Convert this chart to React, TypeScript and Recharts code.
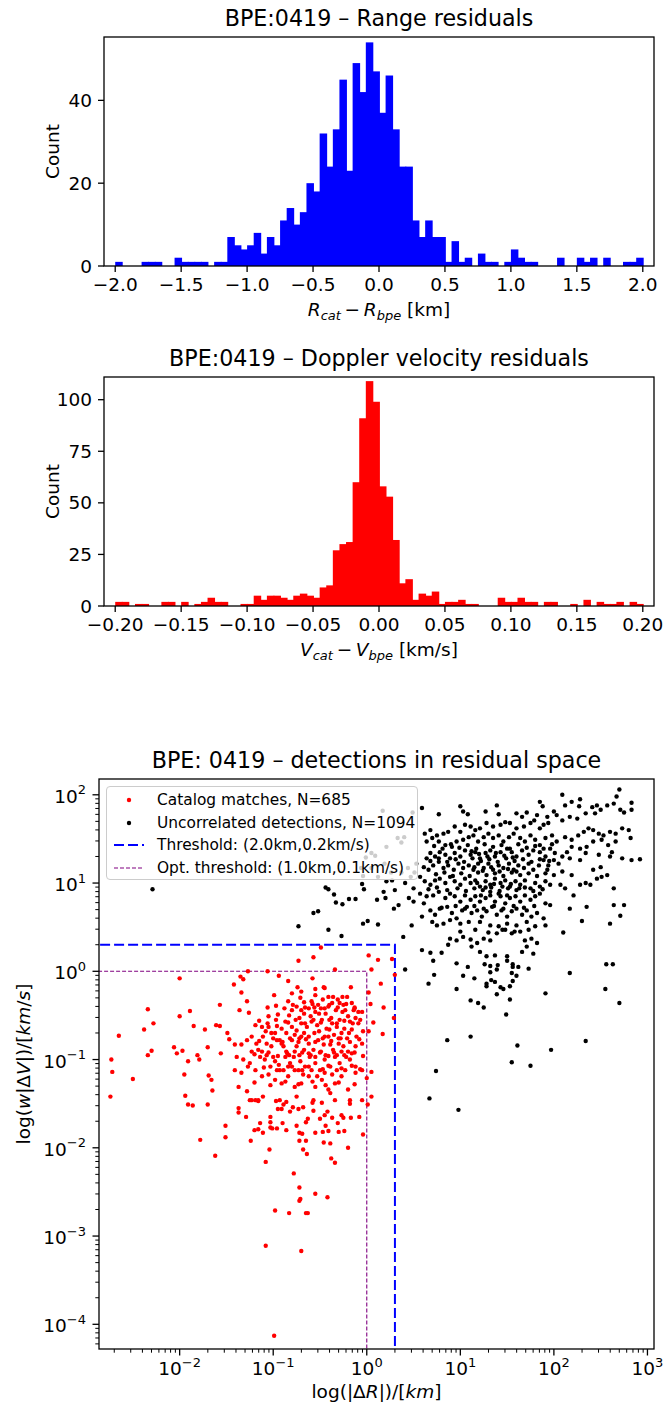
import React from "react";
import { BarChart, Bar, XAxis, YAxis, ComposedChart, Scatter, Line } from "recharts";

const FONT = "'DejaVu Sans', Verdana, sans-serif";
const W = 667;
const MINUS = "\u2212";

// ---------- histogram 1: range residuals (80 bins of 0.05 km from -2.0) ----------
const rangeLo = -2.0;
const rangeBin = 0.05;
const rangeCounts = [
  1, 0, 0, 0, 1, 1, 1, 0, 0, 2, 1, 1, 1, 1, 0, 1, 1, 7, 5, 4,
  5, 8, 3, 7, 5, 11, 14, 10, 13, 20, 18, 32, 24, 33, 45, 23, 49, 42, 54, 47,
  37, 46, 33, 24, 24, 11, 7, 11, 7, 7, 1, 6, 1, 2, 0, 3, 1, 1, 0, 1,
  4, 2, 1, 1, 0, 0, 0, 2, 0, 0, 2, 1, 2, 0, 2, 0, 0, 1, 1, 2,
];
const rangeTicks = [-2, -1.5, -1, -0.5, 0, 0.5, 1, 1.5, 2];
const rangeCountTicks = [0, 20, 40];

// ---------- histogram 2: doppler residuals (80 bins of 0.005 km/s from -0.2) ----------
const dopplerLo = -0.2;
const dopplerBin = 0.005;
const dopplerCounts = [
  2, 2, 0, 1, 1, 0, 0, 2, 2, 0, 2, 0, 1, 2, 4, 2, 2, 0, 0, 1,
  1, 5, 3, 5, 5, 4, 3, 5, 6, 5, 4, 9, 10, 27, 30, 31, 60, 91, 109, 99,
  58, 53, 32, 11, 13, 3, 6, 5, 7, 1, 2, 2, 3, 1, 1, 0, 0, 0, 4, 2,
  2, 4, 2, 2, 0, 2, 2, 0, 0, 1, 0, 3, 0, 2, 1, 1, 2, 0, 2, 1,
];
const dopplerTicks = [-0.2, -0.15, -0.1, -0.05, 0, 0.05, 0.1, 0.15, 0.2];
const dopplerCountTicks = [0, 25, 50, 75, 100];

// ---------- residual space: [log10 |dR| km, log10 w|dV| km/s] ----------
const matchLog: [number, number][] = [
  [-2.74,-1.42],[-2.73,-1.0],[-2.72,-1.14],[-2.65,-0.73],[-2.5,-1.22],[-2.38,-0.66],[-2.34,-0.43],[-2.34,-0.95],
  [-2.3,-0.9],[-2.28,-0.59],[-2.06,-0.86],[-2.03,-0.93],[-2.0,-0.08],[-2.0,-0.51],[-1.97,-0.9],[-1.95,-1.17],
  [-1.94,-1.41],[-1.91,-1.02],[-1.91,-1.51],[-1.89,-0.45],[-1.86,-1.52],[-1.85,-0.62],[-1.81,-0.95],[-1.79,-1.0],
  [-1.78,-1.91],[-1.73,-0.66],[-1.7,-0.86],[-1.7,-1.51],[-1.69,-1.18],[-1.66,-1.23],[-1.65,-1.35],[-1.62,-2.09],
  [-1.61,-0.61],[-1.57,-0.38],[-1.57,-0.62],[-1.56,-0.93],[-1.51,-1.75],[-1.51,-1.88],[-1.49,-0.7],[-1.47,-0.77],
  [-1.35,-0.06],[-1.27,0],[-1.06,0],[-0.94,-0.05],[-0.84,-0.11],[-0.74,-0.18],[-0.58,-0.08],[-0.55,-0.2],
  [-0.46,-0.18],[-0.34,0.02],[-0.17,-0.18],[-0.13,-0.41],[-0.05,-0.46],[0.02,0.18],[0.05,0.02],[0.12,0.13],
  [0.15,-0.14],[0.18,-0.41],[0.27,0.14],[0.29,-0.53],[0.17,-0.71],[-0.49,0.27],[-0.57,0.16],[-0.73,0.12],
  [-1.42,-0.15],[-1.32,-0.09],[-1.34,-0.24],[-1.28,-0.34],[-1.36,-0.44],[-1.26,-0.47],[-1.06,-0.41],[-0.99,-0.27],
  [-1.05,-0.51],[-0.95,-0.49],[-0.84,-0.34],[-0.83,-0.5],[-0.75,-0.4],[-0.71,-0.3],[-0.67,-0.35],[-0.62,-0.42],
  [-0.56,-0.41],[-0.51,-0.48],[-0.47,-0.32],[-0.45,-0.19],[-0.41,-0.4],[-0.36,-0.29],[-0.31,-0.32],[-0.29,-0.36],
  [-0.26,-0.29],[-0.26,-0.46],[-0.2,-0.51],[-0.14,-0.44],[-0.09,-0.46],
  [-1.19,-0.61],[-1.12,-0.63],[-1.08,-0.68],[-1.02,-0.7],[-0.96,-0.62],[-0.91,-0.65],[-0.86,-0.7],[-0.8,-0.63],
  [-0.75,-0.67],[-0.7,-0.59],[-0.64,-0.63],[-0.59,-0.57],[-0.53,-0.61],[-0.48,-0.55],[-0.43,-0.65],[-0.37,-0.59],
  [-0.32,-0.63],[-0.27,-0.7],[-0.21,-0.76],[-0.16,-0.66],[-0.09,-0.59],[-0.04,-0.68],[0.02,-0.68],
  [-1.41,-0.83],[-1.34,-0.83],[-1.28,-0.78],[-1.23,-0.74],[-1.18,-0.82],[-1.12,-0.91],[-1.07,-0.82],[-1.02,-0.85],
  [-0.96,-0.78],[-0.91,-0.82],[-0.86,-0.91],[-0.8,-0.78],[-0.75,-0.85],[-0.7,-0.74],[-0.62,-0.82],[-0.57,-0.89],
  [-0.52,-0.78],[-0.46,-0.83],[-0.41,-0.74],[-0.36,-0.89],[-0.3,-0.82],[-0.25,-0.85],[-0.2,-0.91],[-0.12,-0.85],[-0.05,-0.82],
  [-1.39,-0.97],[-1.32,-1.0],[-1.25,-1.04],[-1.19,-1.12],[-1.14,-0.97],[-1.09,-1.0],[-1.03,-1.08],[-0.98,-1.02],
  [-0.93,-1.12],[-0.87,-0.97],[-0.82,-1.04],[-0.77,-1.12],[-0.71,-1.02],[-0.66,-1.08],[-0.61,-0.97],[-0.55,-1.04],
  [-0.5,-1.12],[-0.45,-1.0],[-0.39,-1.08],[-0.34,-0.97],[-0.29,-1.04],[-0.23,-1.12],[-0.18,-1.0],[-0.12,-1.08],
  [-1.41,-1.12],[-1.34,-1.15],[-1.27,-1.08],[-1.12,-1.19],[-1.05,-1.17],[-0.98,-1.23],[-0.91,-1.27],[-0.84,-1.19],
  [-0.77,-1.31],[-0.7,-1.27],[-0.62,-1.19],[-0.55,-1.31],[-0.48,-1.23],[-0.41,-1.34],[-0.34,-1.27],[-0.27,-1.19],
  [-0.2,-1.34],[-0.12,-1.15],[-0.05,-1.12],[0,-1.21],
  [-1.37,-1.31],[-1.28,-1.36],[-1.23,-1.46],[-1.16,-1.46],[-1.11,-1.42],[-0.93,-1.46],[-0.75,-1.42],[-0.57,-1.46],
  [-0.39,-1.38],[-0.34,-1.46],[-0.18,-1.46],[-0.05,-1.46],[0.05,-1.42],
  [-0.8,-0.44],[-0.72,-0.53],[-0.67,-0.48],[-0.6,-0.51],[-0.55,-0.46],[-0.44,-0.48],[-0.38,-0.53],[-0.33,-0.44],
  [-0.29,-0.55],[-0.23,-0.44],[-0.18,-0.57],[-0.12,-0.53],[-0.87,-0.57],[-0.77,-0.72],[-0.72,-0.76],[-0.67,-0.7],
  [-0.62,-0.74],[-0.56,-0.7],[-0.51,-0.68],[-0.45,-0.74],[-0.4,-0.66],[-0.35,-0.72],[-0.3,-0.76],[-0.24,-0.65],
  [-0.19,-0.7],[-0.11,-0.74],[-0.89,-0.85],[-0.83,-0.95],[-0.77,-0.91],[-0.72,-0.95],[-0.67,-0.89],[-0.62,-0.93],
  [-0.55,-0.97],[-0.49,-0.91],[-0.44,-0.95],[-0.39,-0.83],[-0.32,-0.95],[-0.27,-0.91],[-0.22,-0.97],[-0.16,-0.93],
  [-1.0,-0.97],[-0.94,-1.06],[-0.89,-1.12],[-0.84,-1.08],[-0.73,-1.12],[-0.68,-1.17],[-0.59,-1.12],[-0.53,-1.19],
  [-0.45,-1.15],[-0.37,-1.17],[-0.32,-1.12],[-1.05,-0.63],[-0.98,-0.7],[-0.93,-0.78],[-1.11,-0.74],[-1.16,-0.89],
  [-1.23,-0.91],[-1.07,-0.95],[-0.7,-0.44],[-0.59,-0.34],[-0.52,-0.38],[-0.41,-0.29],[-0.55,-0.27],[-0.7,-0.23],
  [-0.8,-0.25],[-0.25,-0.38],[-0.21,-0.29],[-0.16,-0.36],[-0.37,-0.36],[-0.45,-0.42],
  [-0.97,-0.39],[-0.88,-0.42],[-0.79,-0.38],[-0.66,-0.41],[-0.58,-0.37],[-0.49,-0.42],[-0.4,-0.38],[-0.31,-0.41],
  [-0.22,-0.37],[-0.13,-0.42],[-1.15,-0.56],[-1.06,-0.59],[-0.97,-0.55],[-0.84,-0.58],[-0.76,-0.55],[-0.66,-0.59],
  [-0.57,-0.55],[-0.49,-0.58],[-0.4,-0.55],[-0.32,-0.59],[-0.24,-0.56],[-0.15,-0.59],[-0.07,-0.55],
  [-1.15,-0.79],[-1.0,-0.76],[-0.9,-0.8],[-0.82,-0.76],[-0.73,-0.8],[-0.65,-0.77],[-0.55,-0.8],[-0.47,-0.76],
  [-0.38,-0.79],[-0.28,-0.76],[-0.18,-0.8],[-0.08,-0.77],[-1.2,-0.94],[-1.05,-0.92],[-0.95,-0.96],[-0.85,-0.93],
  [-0.78,-0.97],[-0.69,-0.92],[-0.6,-0.95],[-0.5,-0.92],[-0.41,-0.96],[-0.35,-0.92],[-0.24,-0.95],[-0.13,-0.92],
  [-0.04,-0.96],[-1.1,-1.09],[-0.96,-1.12],[-0.8,-1.08],[-0.69,-1.12],[-0.62,-1.08],[-0.47,-1.11],[-0.41,-1.07],
  [-0.27,-1.1],[-0.16,-1.07],[-0.07,-1.11],[-1.2,-1.26],[-1.03,-1.29],[-0.87,-1.25],[-0.73,-1.28],[-0.58,-1.25],
  [-0.44,-1.29],[-0.3,-1.26],[-0.13,-1.28],
  [0.02,-0.24],[0.04,-0.37],[0.07,-0.58],[0.05,-1.14],[0.3,-0.04],
  [-1.37,-1.55],[-1.37,-1.6],[-1.29,-1.65],[-1.24,-1.92],[-1.25,-1.46],[-1.19,-1.46],[-1.16,-1.47],[-1.14,-1.72],
  [-1.2,-1.8],[-1.16,-1.79],[-1.11,-1.83],[-1.04,-2.02],[-1.08,-2.16],[-1.03,-1.65],[-1.03,-1.71],[-1.03,-1.77],
  [-1.01,-1.78],[-0.96,-1.78],[-0.95,-1.56],[-0.97,-1.47],[-0.91,-1.56],[-0.9,-1.72],[-0.89,-1.51],[-0.86,-1.8],
  [-0.86,-1.48],[-0.82,-1.59],[-0.79,-1.54],[-0.78,-2.29],[-0.75,-1.75],[-0.73,-1.56],[-0.72,-1.83],[-0.72,-2.45],
  [-0.72,-2.6],[-0.71,-2.58],[-0.72,-1.92],[-0.69,-1.84],[-0.68,-1.54],[-0.68,-2.02],[-0.64,-2.07],[-0.65,-1.92],
  [-0.65,-1.71],[-0.63,-1.67],[-0.65,-2.74],[-0.57,-1.58],[-0.58,-1.49],[-0.55,-1.83],[-0.55,-2.52],[-0.5,-1.67],
  [-0.48,-1.49],[-0.47,-1.82],[-0.46,-1.94],[-0.45,-1.63],[-0.44,-1.75],[-0.42,-1.59],[-0.41,-1.81],[-0.39,-1.95],
  [-0.38,-2.12],[-0.34,-2.17],[-0.42,-2.56],[-0.37,-1.66],[-0.31,-1.72],[-0.3,-1.82],[-0.27,-1.63],[-0.25,-1.66],
  [-0.24,-1.81],[-0.2,-2.0],[-0.18,-1.5],[-0.17,-1.66],[-0.08,-1.65],[-0.04,-1.85],[0.01,-1.51],[-0.98,-2.71],
  [-0.83,-2.74],[-0.63,-2.74],[-1.08,-3.11],[-0.7,-3.17],[-0.99,-4.13],
];

const uncorrLog: [number, number][] = [
  [-2.29,0.93],[-0.44,0.95],[-0.41,0.93],[-0.35,0.87],[-0.33,0.78],[-0.26,0.76],[-0.19,0.82],[-0.12,0.82],
  [-0.57,0.66],[-0.52,0.68],[-0.73,0.51],[-0.41,0.47],[-0.27,0.4],[-0.04,0.54],[0.01,0.57],[0.12,0.53],
  [0.11,0.81],[-0.05,0.99],[-0.03,0.93],
  [-0.04,1.08],[-0.06,1.17],[0.09,1.31],[0.05,1.17],[0.05,1.34],[-0.01,1.29],[0.12,1.07],[0.17,1.82],
  [0.49,1.8],[0.4,1.52],[0.37,1.46],[0.19,1.22],[0.26,1.12],[0.37,1.12],[0.47,1.07],[0.44,1.17],
  [0.53,1.22],[0.33,1.51],[0.21,1.41],[0.51,1.12],
  [2.7,2.06],[2.09,2.0],[1.85,1.92],[1.88,1.87],[1.39,1.88],[1.0,1.87],[0.77,1.78],[0.59,1.85],
  [1.27,1.81],[1.03,1.81],[1.08,1.78],[1.41,1.78],[1.6,1.79],[1.66,1.75],[1.71,1.8],[1.82,1.77],
  [1.79,1.71],[1.93,1.75],[2.0,1.81],[2.03,1.77],[2.12,1.88],[2.19,1.92],[2.27,1.87],[2.28,1.95],
  [2.41,1.86],[2.46,1.88],[2.5,1.83],[2.57,1.88],[2.64,1.9],[2.67,1.98],[2.71,1.83],[2.75,1.8],
  [2.83,1.91],[2.83,1.83],[2.44,1.79],[2.34,1.79],[2.25,1.73],[2.17,1.75],[2.09,1.71],[1.94,1.68],
  [1.89,1.66],[1.85,1.62],[1.75,1.68],[1.68,1.64],[1.6,1.62],[1.53,1.68],[1.48,1.69],[1.43,1.66],
  [1.35,1.64],[1.28,1.68],[1.21,1.62],[1.16,1.6],[1.11,1.64],[1.05,1.66],[1.0,1.58],[0.94,1.64],
  [0.87,1.58],[0.82,1.56],[0.75,1.54],[0.68,1.6],[0.62,1.56],[0.64,1.47],[0.7,1.51],[0.77,1.47],
  [0.84,1.43],[0.91,1.41],[0.96,1.47],[1.03,1.49],[1.09,1.52],[1.14,1.54],[1.19,1.47],[1.25,1.52],
  [1.3,1.56],[1.35,1.51],[1.41,1.54],[1.46,1.47],[1.52,1.52],[1.57,1.56],[1.64,1.51],[1.69,1.47],
  [1.75,1.54],[1.8,1.49],[1.85,1.43],[1.91,1.51],[1.98,1.54],[2.03,1.47],[2.12,1.52],[2.19,1.49],
  [2.26,1.54],[2.32,1.58],[2.37,1.62],[2.42,1.6],[2.48,1.56],[2.53,1.54],[2.6,1.58],[2.66,1.56],
  [2.73,1.62],[2.8,1.6],[2.82,1.51],[2.66,1.47],[2.58,1.43],[2.51,1.49],[2.42,1.47],[2.35,1.41],
  [2.28,1.39],[2.19,1.41],[2.14,1.35],[2.09,1.3],[2.01,1.34],[1.96,1.39],[1.91,1.3],[1.85,1.35],
  [1.78,1.37],[1.73,1.32],[1.66,1.37],[1.6,1.3],[1.55,1.35],[1.5,1.39],[1.43,1.35],[1.37,1.3],
  [1.32,1.37],[1.27,1.34],[1.21,1.28],[1.16,1.35],[1.11,1.32],[1.05,1.37],[1.0,1.3],[0.94,1.34],
  [0.89,1.28],[0.84,1.32],[0.78,1.35],[0.73,1.3],[0.68,1.34],[0.64,1.28],[0.61,1.18],[0.66,1.15],
  [0.71,1.2],[0.77,1.24],[0.82,1.17],[0.87,1.2],[0.93,1.15],[0.98,1.22],[1.03,1.17],[1.09,1.2],
  [1.14,1.15],[1.19,1.22],[1.25,1.17],[1.3,1.22],[1.35,1.15],[1.41,1.2],[1.46,1.17],[1.52,1.22],
  [1.57,1.15],[1.62,1.2],[1.68,1.17],[1.73,1.22],[1.78,1.15],[1.84,1.2],[1.89,1.26],[1.94,1.2],
  [2.0,1.26],[1.93,1.15],[2.09,1.13],[2.19,1.09],[2.48,1.32],[2.6,1.3],[2.73,1.28],[2.83,1.26],
  [2.92,1.27],[2.5,1.18],[2.42,1.15],[2.62,1.35],[2.17,1.28],[2.28,1.26],[2.34,1.34],
  [0.57,1.07],[0.62,1.02],[0.68,0.98],[0.73,1.03],[0.78,1.05],[0.84,1.0],[0.89,1.07],[0.94,1.02],
  [1.0,0.98],[1.05,1.05],[1.11,1.0],[1.16,1.03],[1.21,0.96],[1.27,1.02],[1.32,0.98],[1.37,1.05],
  [1.43,1.0],[1.48,1.03],[1.53,0.96],[1.59,1.02],[1.64,0.98],[1.69,1.03],[1.75,0.94],[1.8,1.0],
  [1.85,0.96],[1.91,1.02],[1.96,0.98],[0.21,1.02],[0.27,1.03],[0.3,0.92],[0.41,1.0],[0.5,0.94],
  [0.57,0.88],[0.64,0.85],[0.71,0.86],[0.77,0.9],[0.84,0.83],[0.89,0.88],[0.94,0.85],[1.0,0.79],
  [1.05,0.86],[1.11,0.81],[1.16,0.85],[1.21,0.79],[1.27,0.83],[1.32,0.86],[1.37,0.79],[1.43,0.85],
  [1.48,0.77],[1.53,0.83],[1.59,0.85],[1.64,0.79],[1.69,0.86],[1.75,0.81],[1.8,0.85],[1.85,0.88],
  [1.91,0.77],[1.96,0.75],[2.07,0.98],[2.12,0.94],[2.21,0.86],[2.28,0.98],[2.34,1.0],[2.39,0.98],
  [2.46,1.05],[2.51,1.07],[2.57,1.09],[2.64,0.94],[2.75,0.75],[2.64,0.75],[2.35,0.73],[2.17,0.71],
  [0.2,0.83],[0.18,0.9],[0.29,0.71],[0.34,0.75],[0.45,0.83],[0.5,0.79],[0.61,0.77],[0.68,0.69],
  [0.73,0.64],[0.78,0.71],[0.86,0.73],[0.91,0.66],[0.96,0.6],[1.02,0.69],[1.07,0.73],[1.12,0.66],
  [1.18,0.69],[1.23,0.62],[1.28,0.68],[1.34,0.73],[1.39,0.64],[1.44,0.69],[1.5,0.62],[1.55,0.68],
  [1.6,0.71],[1.66,0.64],[1.71,0.69],[1.76,0.62],[1.82,0.66],[1.89,0.6],[0.89,0.58],[1.0,0.54],
  [1.09,0.56],[1.21,0.56],[1.32,0.52],[1.41,0.51],[1.5,0.54],[1.6,0.52],[1.71,0.56],[1.8,0.51],
  [1.91,0.52],[0.48,0.52],[0.59,0.62],[0.7,0.56],[0.75,0.52],[0.82,0.54],[0.39,0.39],[0.59,0.24],
  [0.68,0.21],[0.8,0.21],[0.87,0.3],[0.89,0.37],[0.96,0.35],[1.03,0.39],[1.11,0.36],[1.18,0.32],
  [1.25,0.37],[1.32,0.35],[1.39,0.43],[1.48,0.47],[1.55,0.43],[1.64,0.45],[1.69,0.35],[1.76,0.37],
  [1.82,0.32],[1.12,0.28],[1.21,0.22],[1.28,0.17],[1.37,0.18],[1.5,0.17],[1.66,0.22],[1.71,0.28],
  [1.78,0.2],[2.1,0.44],[2.3,0.57],[2.6,0.54],[2.71,0.63],
  [0.72,1.42],[0.81,1.39],[0.9,1.44],[0.99,1.4],[1.08,1.43],[1.17,1.39],[1.26,1.44],[1.35,1.41],
  [1.44,1.43],[1.53,1.39],[1.62,1.44],[1.71,1.4],[1.8,1.42],[1.89,1.39],[1.98,1.44],
  [0.68,1.25],[0.77,1.28],[0.86,1.24],[0.95,1.27],[1.04,1.24],[1.13,1.28],[1.22,1.25],[1.31,1.27],
  [1.4,1.24],[1.49,1.28],[1.58,1.25],[1.67,1.27],[1.76,1.24],[1.85,1.27],[1.95,1.25],[2.05,1.22],
  [0.74,1.1],[0.83,1.12],[0.92,1.08],[1.01,1.11],[1.1,1.08],[1.19,1.12],[1.28,1.09],[1.37,1.11],
  [1.46,1.08],[1.55,1.12],[1.64,1.09],[1.73,1.11],[1.82,1.08],[1.91,1.11],[2.0,1.09],
  [0.66,0.93],[0.75,0.95],[0.86,0.92],[0.97,0.94],[1.06,0.91],[1.15,0.94],[1.24,0.92],[1.33,0.95],
  [1.42,0.91],[1.51,0.94],[1.6,0.92],[1.69,0.95],[1.78,0.91],[1.88,0.93],
  [0.8,0.72],[0.95,0.74],[1.05,0.71],[1.15,0.74],[1.25,0.71],[1.36,0.74],[1.46,0.71],[1.57,0.74],
  [1.68,0.72],[1.79,0.74],[1.0,0.45],[1.16,0.47],[1.3,0.44],[1.45,0.47],[1.58,0.45],[1.73,0.47],
  [1.12,1.36],[1.2,1.33],[1.29,1.3],[1.38,1.34],[1.47,1.31],[1.56,1.29],[1.15,1.18],[1.24,1.14],
  [1.33,1.18],[1.42,1.13],[1.51,1.16],[1.6,1.13],[1.18,1.0],[1.27,0.95],[1.36,0.99],[1.45,0.96],
  [1.54,0.99],[1.63,0.94],[1.22,0.86],[1.32,0.9],[1.41,0.88],[1.5,0.86],
  [0.41,0.02],[0.71,0.12],[0.96,0.09],[1.08,0.05],[1.26,0.08],[1.32,0.06],[1.4,0.07],[1.5,0.12],
  [1.56,0.08],[1.56,0.05],[1.62,0.05],[1.73,0.03],[0.72,-0.04],[1.03,-0.05],[1.15,-0.08],[1.32,-0.01],
  [1.39,0.02],[1.55,-0.02],[1.6,-0.05],[1.56,-0.11],[1.37,-0.12],[1.33,-0.1],[1.28,-0.14],[1.28,-0.17],
  [0.66,-0.14],[0.96,-0.2],[1.43,-0.18],[1.46,-0.2],[1.53,-0.17],[1.39,-0.26],[1.11,-0.33],[1.19,-0.36],
  [1.25,-0.41],[1.53,-0.32],[1.49,-0.49],[1.91,-0.25],[2.17,-0.02],[2.55,-0.2],[2.56,0.08],[2.63,0.08],
  [2.7,-0.36],[0.86,-0.78],[1.11,-0.74],[1.61,-0.84],[1.97,-0.89],[2.34,-0.79],[1.55,-1.03],[1.75,-1.07],
  [0.74,-1.13],[0.67,-1.44],[0.98,-1.57],
];

// threshold polylines (x in km, y in km/s), running off the plot edges
const thresholdPath: [number, number][] = [[1e-3, 2], [2, 2], [2, 1e-5]];
const optThresholdPath: [number, number][] = [[1e-3, 1], [1, 1], [1, 1e-5]];

const MATCH_NAME = "Catalog matches, N=685";
const UNCORR_NAME = "Uncorrelated detections, N=1094";
const THRESH_NAME = "Threshold: (2.0km,0.2km/s)";
const OPT_NAME = "Opt. threshold: (1.0km,0.1km/s)";

const X_MIN = 0.001374;
const X_MAX = 1175;
const Y_MIN = 5.25e-5;
const Y_MAX = 151;
const xMajor = [1e-2, 1e-1, 1, 10, 100, 1000];
const yMajor = [1e-4, 1e-3, 1e-2, 1e-1, 1, 10, 100];

function logTicks(lo: number, hi: number, major: number[]) {
  const out = [...major];
  for (let d = Math.floor(Math.log10(lo)); d <= Math.ceil(Math.log10(hi)); d++) {
    for (let k = 2; k <= 9; k++) {
      const v = k * Math.pow(10, d);
      if (v >= lo && v <= hi) out.push(v);
    }
  }
  return out.sort((a, b) => a - b);
}

const fmtMinus = (s: string) => s.replace("-", MINUS);

function LogTick(props: any) {
  const { x, y, payload, side } = props;
  const lv = Math.log10(payload.value);
  const e = Math.round(lv);
  const major = Math.abs(lv - e) < 1e-6;
  const len = major ? 6.5 : 3.7;
  const sw = major ? 1.3 : 1;
  const exp = e < 0 ? MINUS + String(-e) : String(e);
  if (side === "x") {
    return (
      <g>
        <line x1={x} y1={y} x2={x} y2={y + len} stroke="#000" strokeWidth={sw} />
        {major && (
          <text x={x} y={y + 26} textAnchor="middle" fontSize={18.5} fontFamily={FONT} fill="#000">
            10<tspan dy={-8.5} fontSize={13}>{exp}</tspan>
          </text>
        )}
      </g>
    );
  }
  return (
    <g>
      <line x1={x - len} y1={y} x2={x} y2={y} stroke="#000" strokeWidth={sw} />
      {major && (
        <text x={x - 13} y={y + 8} textAnchor="end" fontSize={18.5} fontFamily={FONT} fill="#000">
          10<tspan dy={-8.5} fontSize={13}>{exp}</tspan>
        </text>
      )}
    </g>
  );
}

type HistProps = {
  top: number;
  counts: number[];
  lo: number;
  bin: number;
  xDomain: [number, number];
  xTicks: number[];
  yMax: number;
  yTicks: number[];
  digits: number;
  color: string;
  title: string;
  xlabel: React.ReactNode;
};

function Histogram({ top, counts, lo, bin, xDomain, xTicks, yMax, yTicks, digits, color, title, xlabel }: HistProps) {
  const data = counts.map((c, i) => ({ x: lo + bin * (i + 0.5), count: c }));
  const L = 104, T = 37, R = 13, H = 330, B = 266;
  const tickStyle = { fill: "#000", fontSize: 18.5, fontFamily: FONT };
  return (
    <div style={{ position: "absolute", left: 0, top, width: W, height: H }}>
      <BarChart width={W} height={H} data={data} margin={{ top: T, right: R, bottom: 34, left: L - 50 }} barCategoryGap={0} barGap={0}>
        <XAxis
          type="number"
          dataKey="x"
          domain={xDomain}
          ticks={xTicks}
          interval={0}
          allowDataOverflow
          axisLine={false}
          height={30}
          tickSize={6}
          tickMargin={6}
          tickLine={{ stroke: "#000", strokeWidth: 1.3 }}
          tick={tickStyle}
          tickFormatter={(v: number) => fmtMinus(v.toFixed(digits))}
        />
        <YAxis
          type="number"
          domain={[0, yMax]}
          ticks={yTicks}
          interval={0}
          allowDataOverflow
          axisLine={false}
          width={50}
          tickSize={6}
          tickMargin={6}
          tickLine={{ stroke: "#000", strokeWidth: 1.3 }}
          tick={tickStyle}
        />
        <Bar
          dataKey="count"
          fill={color}
          isAnimationActive={false}
          shape={(p: any) => <rect x={p.x} y={p.y} width={Math.max(0, p.width) + 0.5} height={Math.max(0, p.height)} fill={color} />}
        />
      </BarChart>
      <svg width={W} height={H} style={{ position: "absolute", left: 0, top: 0, pointerEvents: "none", fontFamily: FONT }}>
        <rect x={L} y={T} width={W - L - R} height={B - T} fill="none" stroke="#000" strokeWidth={1.3} />
        <text x={(L + W - R) / 2} y={26} textAnchor="middle" fontSize={22.2} fill="#000">{title}</text>
        <text transform={`translate(59 ${(T + B) / 2}) rotate(-90)`} textAnchor="middle" fontSize={18.5} fill="#000">Count</text>
        <text x={(L + W - R) / 2} y={316} textAnchor="middle" fontSize={18.5} fill="#000">{xlabel}</text>
      </svg>
    </div>
  );
}

function mathLabel(sym: string, unit: string) {
  return (
    <>
      <tspan fontStyle="italic">{sym}</tspan>
      <tspan fontStyle="italic" fontSize={13} dy={4}>cat</tspan>
      <tspan dy={-4}>{"\u2009" + MINUS + "\u2009"}</tspan>
      <tspan fontStyle="italic">{sym}</tspan>
      <tspan fontStyle="italic" fontSize={13} dy={4}>bpe</tspan>
      <tspan dy={-4}>{" [" + unit + "]"}</tspan>
    </>
  );
}

function ResidualSpace() {
  const red = matchLog.map(([a, b]) => ({ x: Math.pow(10, a), y: Math.pow(10, b) }));
  const black = uncorrLog.map(([a, b]) => ({ x: Math.pow(10, a), y: Math.pow(10, b) }));
  const thr = thresholdPath.map(([x, y]) => ({ x, y }));
  const opt = optThresholdPath.map(([x, y]) => ({ x, y }));
  const L = 99, T = 39, R = 13, H = 665, B = 609;
  const cx = (L + W - R) / 2;
  const rows = [
    { name: MATCH_NAME, kind: "dot", color: "#ff0000" },
    { name: UNCORR_NAME, kind: "dot", color: "#000000" },
    { name: THRESH_NAME, kind: "line", color: "#0000ff", width: 2, dash: "10 4" },
    { name: OPT_NAME, kind: "line", color: "#800080", width: 1.1, dash: "4 2" },
  ];
  return (
    <div style={{ position: "absolute", left: 0, top: 740, width: W, height: H }}>
      <ComposedChart width={W} height={H} margin={{ top: T, right: R, bottom: 26, left: L - 60 }}>
        <XAxis
          type="number"
          dataKey="x"
          scale="log"
          domain={[X_MIN, X_MAX]}
          allowDataOverflow
          ticks={logTicks(X_MIN, X_MAX, xMajor)}
          interval={0}
          axisLine={false}
          tickLine={false}
          tickSize={0}
          tickMargin={0}
          height={30}
          tick={(p: any) => <LogTick {...p} side="x" />}
        />
        <YAxis
          type="number"
          dataKey="y"
          scale="log"
          domain={[Y_MIN, Y_MAX]}
          allowDataOverflow
          ticks={logTicks(Y_MIN, Y_MAX, yMajor)}
          interval={0}
          axisLine={false}
          tickLine={false}
          tickSize={0}
          tickMargin={0}
          width={60}
          tick={(p: any) => <LogTick {...p} side="y" />}
        />
        <Scatter name={MATCH_NAME} data={red} fill="#ff0000" isAnimationActive={false}
          shape={(p: any) => <circle cx={p.cx} cy={p.cy} r={2.2} fill="#ff0000" />} />
        <Scatter name={UNCORR_NAME} data={black} fill="#000000" isAnimationActive={false}
          shape={(p: any) => <circle cx={p.cx} cy={p.cy} r={2.2} fill="#000000" />} />
        <Line name={THRESH_NAME} data={thr} dataKey="y" type="linear" stroke="#0000ff" strokeWidth={2}
          strokeDasharray="10 4" dot={false} activeDot={false} isAnimationActive={false} />
        <Line name={OPT_NAME} data={opt} dataKey="y" type="linear" stroke="#800080" strokeWidth={1.1}
          strokeDasharray="4 2" dot={false} activeDot={false} isAnimationActive={false} />
      </ComposedChart>
      <svg width={W} height={H} style={{ position: "absolute", left: 0, top: 0, pointerEvents: "none", fontFamily: FONT }}>
        <rect x={L} y={T} width={W - L - R} height={B - T} fill="none" stroke="#000" strokeWidth={1.3} />
        <text x={cx} y={28} textAnchor="middle" fontSize={22.2} fill="#000">BPE: 0419 – detections in residual space</text>
        <text transform={`translate(30 ${(T + B) / 2}) rotate(-90)`} textAnchor="middle" fontSize={18.5} fill="#000">
          log(<tspan fontStyle="italic">w</tspan>|Δ<tspan fontStyle="italic">V</tspan>|)/[<tspan fontStyle="italic">km</tspan>/<tspan fontStyle="italic">s</tspan>]
        </text>
        <text x={cx} y={658} textAnchor="middle" fontSize={18.5} fill="#000">
          log(|Δ<tspan fontStyle="italic">R</tspan>|)/[<tspan fontStyle="italic">km</tspan>]
        </text>
      </svg>
      <div
        style={{
          position: "absolute", left: 106, top: 46, width: 312, height: 94, boxSizing: "border-box",
          background: "rgba(255,255,255,0.8)", border: "1px solid #cccccc", borderRadius: 4,
          fontFamily: FONT, fontSize: 15.4, color: "#000",
        }}
      >
        {rows.map((r, i) => (
          <div key={r.name} style={{ position: "absolute", left: 0, top: 2 + i * 22.5, height: 22, width: 310 }}>
            <svg width={40} height={22} style={{ position: "absolute", left: 0, top: 0 }}>
              {r.kind === "dot" ? (
                <circle cx={22} cy={11} r={2.2} fill={r.color} />
              ) : (
                <line x1={7} y1={11} x2={37} y2={11} stroke={r.color} strokeWidth={r.width} strokeDasharray={r.dash} />
              )}
            </svg>
            <span style={{ position: "absolute", left: 50, top: 0, lineHeight: "22px", whiteSpace: "nowrap" }}>{r.name}</span>
          </div>
        ))}
      </div>
    </div>
  );
}

export default function App() {
  return (
    <div style={{ position: "absolute", left: 0, top: 0, width: W, height: 1405, overflow: "hidden", background: "#fff", fontFamily: FONT }}>
      <Histogram
        top={0}
        counts={rangeCounts}
        lo={rangeLo}
        bin={rangeBin}
        xDomain={[-2.085, 2.085]}
        xTicks={rangeTicks}
        yMax={55.3}
        yTicks={rangeCountTicks}
        digits={1}
        color="#0000ff"
        title="BPE:0419 – Range residuals"
        xlabel={mathLabel("R", "km")}
      />
      <Histogram
        top={340}
        counts={dopplerCounts}
        lo={dopplerLo}
        bin={dopplerBin}
        xDomain={[-0.2085, 0.2085]}
        xTicks={dopplerTicks}
        yMax={111}
        yTicks={dopplerCountTicks}
        digits={2}
        color="#ff0000"
        title="BPE:0419 – Doppler velocity residuals"
        xlabel={mathLabel("V", "km/s")}
      />
      <ResidualSpace />
    </div>
  );
}
